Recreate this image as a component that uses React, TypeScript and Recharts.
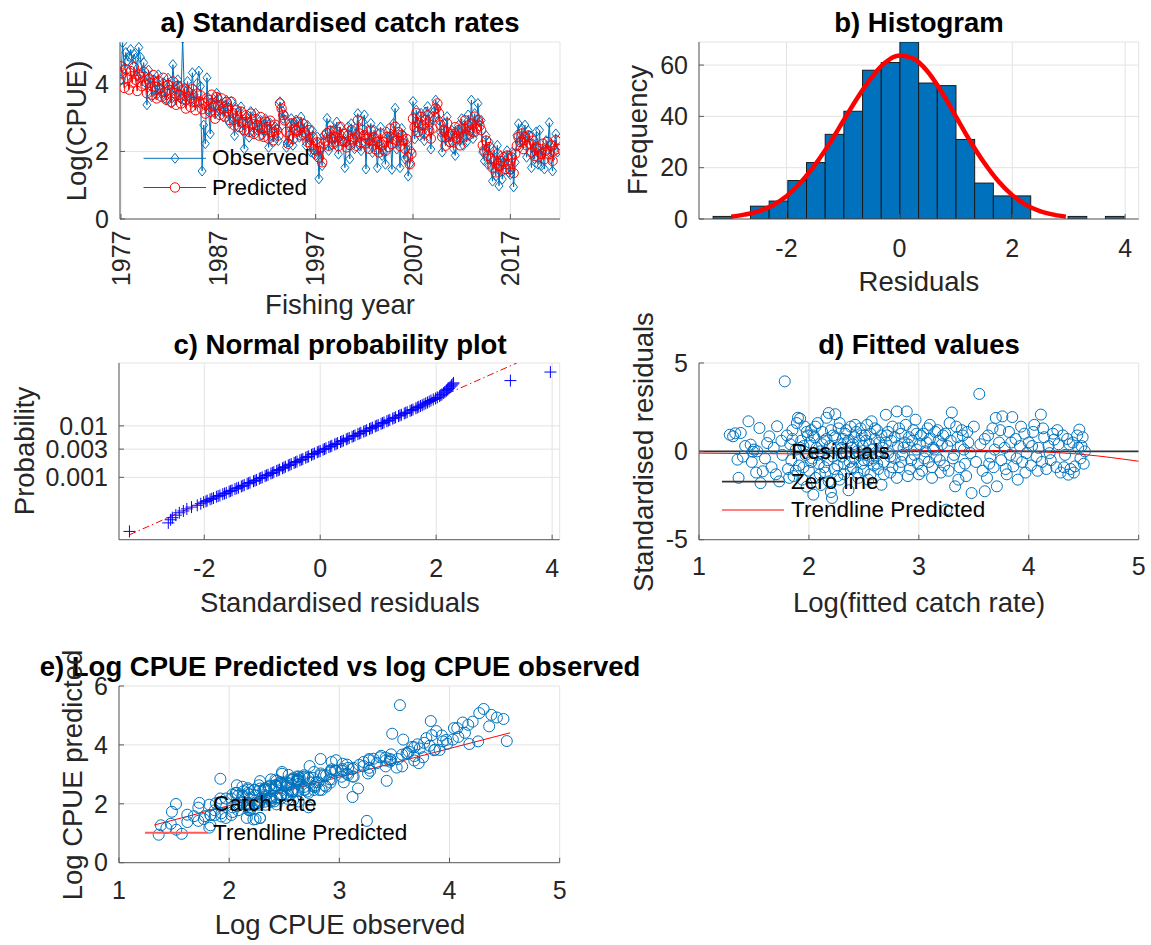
import React from 'react';
import { ComposedChart, Line, Scatter, Bar, XAxis, YAxis, CartesianGrid } from 'recharts';

const FONT = '"Liberation Sans", Arial, Helvetica, sans-serif';
const BLUE = '#0072BD';
const RED = '#FF0000';
const AXIS = '#5a5a5a';
const TXT = '#262626';
const GRID = '#e3e3e3';

// ---------- a) Standardised catch rates (6 values per fishing year, 1977-2021) ----------
const START_YEAR = 1977;
const STEPS_PER_YEAR = 6;
const observedByYear: number[][] = [
  [4.13, 5.22, 4.47, 4.93, 4.68, 4.81],
  [5.02, 4.57, 4.88, 4.76, 4.23, 5.08],
  [4.79, 4.32, 4.63, 4.04, 3.38, 4.41],
  [4.18, 3.62, 4.12, 3.83, 3.67, 4.27],
  [3.84, 3.71, 4.03, 3.58, 3.52, 4.17],
  [3.97, 3.43, 4.57, 3.88, 3.63, 4.12],
  [3.92, 3.57, 5.35, 3.82, 3.48, 4.07],
  [3.77, 3.53, 4.33, 3.68, 3.42, 4.02],
  [4.38, 3.93, 1.42, 2.78, 2.23, 4.18],
  [3.23, 2.52, 3.47, 3.38, 3.12, 3.72],
  [3.58, 3.22, 3.27, 3.03, 3.36, 3.52],
  [3.12, 2.83, 3.48, 2.92, 2.47, 3.28],
  [2.73, 2.88, 3.32, 2.62, 2.08, 3.02],
  [2.97, 2.42, 3.18, 2.73, 2.57, 3.13],
  [2.63, 2.68, 2.92, 2.48, 2.62, 2.97],
  [2.88, 2.12, 2.83, 2.47, 2.28, 2.73],
  [2.68, 2.32, 3.47, 3.22, 2.98, 3.07],
  [2.12, 2.28, 2.73, 2.97, 2.18, 2.87],
  [2.93, 2.58, 2.42, 3.02, 2.47, 2.83],
  [2.18, 2.77, 2.43, 1.98, 2.62, 1.92],
  [1.88, 2.43, 1.19, 2.03, 1.58, 2.48],
  [2.52, 2.98, 2.03, 2.77, 2.18, 2.63],
  [2.22, 2.87, 1.92, 2.72, 2.48, 2.28],
  [1.52, 2.27, 2.73, 1.78, 2.82, 2.57],
  [2.08, 2.53, 3.12, 2.17, 2.02, 2.88],
  [3.08, 1.48, 2.62, 2.27, 2.83, 1.97],
  [2.63, 2.37, 1.52, 2.18, 2.72, 1.88],
  [1.97, 1.62, 2.58, 2.43, 2.47, 1.47],
  [2.83, 3.28, 2.07, 2.42, 1.52, 2.68],
  [2.47, 1.78, 2.23, 1.27, 1.63, 2.02],
  [3.48, 2.37, 3.22, 2.82, 2.47, 3.13],
  [2.58, 2.32, 3.17, 3.33, 2.78, 2.07],
  [2.92, 3.18, 3.52, 3.27, 2.93, 2.57],
  [1.98, 2.83, 2.37, 3.03, 2.27, 2.52],
  [2.62, 2.08, 1.88, 2.53, 2.77, 2.32],
  [2.97, 2.18, 2.72, 2.28, 3.08, 2.47],
  [3.52, 2.38, 3.12, 2.57, 3.42, 2.88],
  [2.92, 1.98, 1.72, 2.47, 1.62, 2.28],
  [1.58, 1.12, 2.03, 1.27, 2.18, 0.98],
  [1.87, 1.18, 1.62, 1.73, 2.02, 1.38],
  [1.32, 1.97, 0.95, 1.68, 2.48, 2.82],
  [2.12, 2.68, 2.37, 2.78, 1.83, 2.62],
  [2.47, 1.52, 2.23, 1.78, 2.58, 1.62],
  [2.63, 1.57, 2.02, 1.48, 2.32, 2.07],
  [2.85, 1.78, 1.42, 2.18, 2.52, 1.98],
];
const predictedByYear: number[][] = [
  [4.52, 4.31, 3.88, 4.43, 4.17, 3.83],
  [4.38, 4.04, 4.49, 4.12, 3.79, 4.27],
  [4.21, 3.93, 4.36, 3.98, 3.72, 4.14],
  [4.03, 3.68, 4.26, 3.91, 3.57, 4.08],
  [3.87, 3.62, 4.18, 3.76, 3.53, 3.97],
  [3.82, 3.46, 4.07, 3.73, 3.38, 3.94],
  [3.68, 3.42, 3.55, 3.86, 3.27, 3.77],
  [3.63, 3.31, 3.84, 3.47, 3.22, 3.71],
  [3.48, 3.66, 3.25, 3.43, 3.12, 3.58],
  [3.52, 3.17, 3.68, 3.34, 2.97, 3.61],
  [3.37, 3.08, 3.57, 3.26, 3.03, 3.46],
  [3.28, 2.93, 3.47, 3.13, 2.77, 3.22],
  [3.04, 2.72, 3.18, 2.87, 2.63, 3.07],
  [2.86, 2.58, 3.12, 2.81, 2.52, 2.96],
  [2.78, 2.47, 3.02, 2.69, 2.43, 2.88],
  [2.72, 2.38, 2.91, 2.57, 2.33, 2.79],
  [2.63, 2.47, 3.42, 3.27, 3.08, 2.92],
  [2.58, 2.23, 2.46, 2.83, 2.37, 2.68],
  [2.62, 2.88, 2.71, 2.48, 2.82, 2.57],
  [2.47, 2.28, 2.63, 2.18, 2.42, 2.07],
  [2.03, 2.27, 1.82, 2.12, 1.68, 2.23],
  [2.32, 2.54, 2.17, 2.61, 2.38, 2.27],
  [2.43, 2.58, 2.16, 2.73, 2.31, 2.52],
  [2.28, 2.12, 2.47, 2.19, 2.63, 2.36],
  [2.41, 2.17, 2.92, 2.53, 2.26, 2.64],
  [2.48, 2.24, 2.37, 2.08, 2.62, 2.33],
  [2.42, 2.06, 2.28, 1.97, 2.53, 2.18],
  [2.27, 2.02, 2.43, 2.13, 2.68, 2.22],
  [2.38, 2.73, 2.32, 2.57, 2.16, 2.48],
  [2.33, 2.08, 2.37, 1.83, 1.62, 1.93],
  [2.97, 2.72, 3.13, 2.58, 2.84, 3.02],
  [2.77, 2.53, 2.93, 3.07, 2.62, 2.38],
  [2.68, 3.03, 3.27, 3.42, 3.12, 2.78],
  [2.43, 2.62, 2.17, 2.83, 2.47, 2.28],
  [2.52, 2.27, 2.72, 2.38, 2.63, 2.18],
  [2.68, 2.43, 2.92, 2.47, 2.77, 2.62],
  [2.83, 2.57, 3.03, 2.68, 2.93, 2.76],
  [2.63, 2.18, 2.03, 2.32, 1.87, 2.13],
  [1.78, 1.52, 1.73, 1.38, 1.92, 1.57],
  [1.72, 1.43, 1.83, 1.48, 1.88, 1.62],
  [1.47, 1.82, 1.36, 1.93, 2.17, 2.42],
  [2.28, 2.53, 2.07, 2.43, 2.18, 2.47],
  [2.23, 1.97, 2.32, 1.87, 2.12, 1.83],
  [2.07, 1.93, 2.23, 1.77, 2.03, 2.28],
  [1.92, 2.18, 1.72, 2.02, 2.33, 2.08],
];
const yearTicks = [1977, 1987, 1997, 2007, 2017];
const cpueTicks = [0, 2, 4];

// ---------- b) Histogram of residuals ----------
const residualBinStart = -3.3;
const residualBinWidth = 0.331;
const residualCounts = [1, 0, 5, 7, 15, 22, 33, 42, 58, 61, 69, 53, 52, 31, 14, 9, 9, 0, 0, 1, 0, 1];
const normalFitX = [-2.98, -2.75, -2.5, -2.25, -2.0, -1.75, -1.5, -1.25, -1.0, -0.75, -0.5, -0.25, 0, 0.25, 0.5, 0.75, 1.0, 1.25, 1.5, 1.75, 2.0, 2.25, 2.5, 2.75, 2.95];
const normalFitY = [0.9, 1.7, 3.0, 5.3, 8.9, 14.2, 21.0, 29.0, 38.0, 47.0, 55.0, 61.0, 63.7, 62.5, 57.5, 49.5, 40.0, 30.5, 22.0, 14.8, 9.3, 5.4, 3.0, 1.6, 0.9];
const freqTicks = [0, 20, 40, 60];
const residTicks = [-2, 0, 2, 4];

// ---------- c) Normal probability plot: [sorted residual, normal quantile] ----------
const probPoints: number[][] = [
  [-3.29, -3.08], [-2.62, -2.75], [-2.58, -2.63], [-2.55, -2.55], [-2.49, -2.45], [-2.43, -2.36], [-2.36, -2.29],
  [-2.3, -2.21], [-2.22, -2.14], [-2.12, -2.07], [-2.06, -2.01], [-2.01, -1.95], [-1.95, -1.89], [-1.9, -1.84],
  [-1.84, -1.79], [-1.79, -1.74], [-1.73, -1.69], [-1.68, -1.64], [-1.62, -1.59], [-1.57, -1.54], [-1.52, -1.49],
  [-1.47, -1.44], [-1.41, -1.39], [-1.36, -1.34], [-1.31, -1.29], [-1.26, -1.24], [-1.21, -1.19], [-1.15, -1.14],
  [-1.1, -1.09], [-1.05, -1.04], [-1.0, -0.99], [-0.95, -0.94], [-0.9, -0.89], [-0.85, -0.84], [-0.8, -0.79],
  [-0.75, -0.74], [-0.7, -0.69], [-0.65, -0.64], [-0.6, -0.58], [-0.55, -0.53], [-0.5, -0.48], [-0.45, -0.43],
  [-0.4, -0.38], [-0.35, -0.33], [-0.3, -0.28], [-0.25, -0.23], [-0.2, -0.18], [-0.15, -0.12], [-0.1, -0.07],
  [-0.05, -0.02], [0.0, 0.03], [0.05, 0.08], [0.1, 0.13], [0.15, 0.18], [0.2, 0.23], [0.25, 0.28], [0.3, 0.33],
  [0.35, 0.38], [0.4, 0.43], [0.45, 0.48], [0.5, 0.53], [0.55, 0.58], [0.6, 0.63], [0.65, 0.68], [0.7, 0.73],
  [0.75, 0.78], [0.8, 0.83], [0.85, 0.88], [0.9, 0.93], [0.95, 0.98], [1.0, 1.03], [1.05, 1.08], [1.1, 1.13],
  [1.15, 1.18], [1.2, 1.23], [1.25, 1.28], [1.3, 1.33], [1.35, 1.38], [1.4, 1.43], [1.45, 1.48], [1.5, 1.53],
  [1.55, 1.58], [1.6, 1.63], [1.65, 1.68], [1.7, 1.74], [1.76, 1.8], [1.82, 1.87], [1.88, 1.94], [1.95, 2.02],
  [2.02, 2.1], [2.06, 2.15], [2.1, 2.22], [2.15, 2.31], [2.2, 2.4], [2.24, 2.5], [2.27, 2.58], [2.3, 2.66],
  [3.28, 2.75], [3.97, 3.08],
  [-1.97, -1.92], [-1.87, -1.815], [-1.76, -1.715], [-1.65, -1.615], [-1.545, -1.515], [-1.44, -1.415],
  [-1.335, -1.315], [-1.235, -1.215], [-1.125, -1.115], [-1.025, -1.015], [-0.925, -0.915], [-0.825, -0.815],
  [-0.725, -0.715], [-0.625, -0.61], [-0.525, -0.505], [-0.425, -0.405], [-0.325, -0.305], [-0.225, -0.2],
  [-0.125, -0.095], [-0.025, 0.005], [0.075, 0.105], [0.175, 0.205], [0.275, 0.305], [0.375, 0.405],
  [0.475, 0.505], [0.575, 0.605], [0.675, 0.705], [0.775, 0.805], [0.875, 0.905], [0.975, 1.005],
  [1.075, 1.105], [1.175, 1.205], [1.275, 1.305], [1.375, 1.405], [1.475, 1.505], [1.575, 1.605],
  [1.675, 1.71], [1.73, 1.77], [1.79, 1.835], [1.85, 1.9], [1.91, 1.98], [1.99, 2.06], [2.08, 2.19],
  [2.13, 2.27], [2.18, 2.36], [2.22, 2.45], [2.26, 2.54], [2.29, 2.62],
];
const probRefLine = [[-3.29, -3.21], [3.39, 3.43]];
const probTicks = [-0.99, 0.1, 1.0];
const probTickLabels = ['0.001', '0.003', '0.01'];

// ---------- d) Fitted values vs standardised residuals ----------
const fittedResiduals: number[][] = [
  [1.28, 0.94], [1.31, 0.85], [1.33, 1.02], [1.35, -0.47], [1.36, -1.5], [1.38, 1.04], [1.4, -0.3], [1.42, 0.3],
  [1.45, 1.7], [1.47, 0.38], [1.48, -0.6], [1.5, 0.1], [1.52, -1.2], [1.53, 0.0], [1.55, 1.32], [1.56, -1.8],
  [1.58, -1.13], [1.6, -0.4], [1.62, 0.47], [1.64, 0.85], [1.66, -0.9], [1.68, 0.2], [1.7, -1.3], [1.71, 1.42],
  [1.73, -1.7], [1.75, 0.6], [1.78, 3.96], [1.76, -0.2],
  [1.8, 0.9], [1.81, -1.0], [1.83, 0.4], [1.84, -0.5], [1.85, 1.2], [1.86, -1.4], [1.88, 0.1], [1.89, 1.6],
  [1.9, 1.9], [1.91, -0.8], [1.92, 1.85], [1.93, 0.6], [1.94, -1.6], [1.95, 0.3], [1.96, 1.4], [1.97, -0.2],
  [1.98, -2.0], [1.99, 0.9],
  [2.0, -1.1], [2.01, 0.5], [2.02, 1.2], [2.03, -0.4], [2.04, -2.45], [2.05, 0.8], [2.06, -1.5], [2.07, 0.2],
  [2.08, 1.6], [2.09, -0.7], [2.1, 0.0], [2.11, -1.9], [2.12, 1.1], [2.13, -0.2], [2.14, 0.6], [2.15, -1.2],
  [2.16, 1.9], [2.17, -0.5], [2.18, 2.17], [2.19, 0.3], [2.2, -2.3], [2.21, -2.64], [2.22, 0.9], [2.23, -1.0],
  [2.24, 2.1], [2.25, 0.1], [2.26, -0.8], [2.27, 1.3], [2.28, -1.6], [2.29, 0.4], [2.3, -0.3], [2.31, 0.7],
  [2.32, -1.3], [2.33, 1.0], [2.34, -0.1], [2.35, 0.5], [2.36, -2.2], [2.37, -0.6], [2.38, 1.4], [2.39, 0.2],
  [2.4, -0.9], [2.41, 0.8], [2.42, -0.4], [2.43, 1.1], [2.44, 0.0], [2.45, -1.5], [2.46, 0.6], [2.47, 1.3],
  [2.48, -0.7], [2.49, 0.3], [2.5, -1.1], [2.51, 0.9], [2.52, -0.2], [2.53, 1.5], [2.54, -0.5], [2.55, 0.4],
  [2.56, -1.3], [2.57, 1.7], [2.58, 0.1], [2.59, -0.8], [2.6, 0.7], [2.61, -0.3], [2.62, 1.2], [2.63, -1.0],
  [2.64, 0.5], [2.66, -1.89], [2.67, 0.2], [2.68, -0.6], [2.7, 2.07], [2.71, 0.9], [2.72, -0.1], [2.74, -1.2],
  [2.75, 0.6], [2.76, 1.4], [2.78, -0.4], [2.8, 2.26], [2.81, 0.3], [2.82, -0.9], [2.84, 1.0], [2.85, -0.2],
  [2.87, 0.5], [2.89, 2.26], [2.9, -1.4], [2.91, 0.8], [2.93, -0.5], [2.95, 1.2], [2.97, 1.79], [2.98, 0.1],
  [2.99, -0.7],
  [3.01, 0.4], [3.03, -1.1], [3.04, 1.0], [3.06, 0.0], [3.08, 1.3], [3.09, -0.6], [3.1, 0.7], [3.12, -1.5],
  [3.13, 0.2], [3.15, 1.1], [3.16, -0.3], [3.18, 0.6], [3.2, -1.2], [3.22, 0.9], [3.23, -0.8], [3.25, -3.3],
  [3.26, 0.3], [3.28, 1.6], [3.3, 2.2], [3.31, -0.4], [3.33, -1.98], [3.35, 0.8], [3.37, -0.9], [3.39, 1.2],
  [3.41, 0.1], [3.43, -1.4], [3.45, 0.5], [3.48, -2.36], [3.5, 1.4], [3.52, -0.6],
  [3.55, 3.25], [3.56, 0.4], [3.58, -1.1], [3.6, -2.26], [3.62, -1.5], [3.63, 0.9], [3.65, -0.3], [3.67, 1.3],
  [3.68, -0.9], [3.7, 1.89], [3.71, -1.98], [3.73, 0.5], [3.75, -0.5], [3.76, 1.98], [3.78, 0.2], [3.8, -1.3],
  [3.82, 1.1], [3.83, -0.2], [3.85, 1.94], [3.86, -0.85], [3.88, 0.7], [3.9, -1.6], [3.92, 0.3], [3.94, -0.6],
  [3.96, 1.0], [3.98, -0.1],
  [4.0, 0.5], [4.02, -0.8], [4.04, 1.1], [4.05, 1.5], [4.07, -0.3], [4.09, 0.2], [4.11, 2.08], [4.12, -0.6],
  [4.14, 0.8], [4.16, -1.0], [4.18, 0.3], [4.2, -0.5], [4.22, 1.0], [4.23, 0.66], [4.25, -0.9], [4.27, 0.4],
  [4.29, -1.2], [4.31, 0.9], [4.33, -0.2], [4.35, 0.7], [4.36, -1.32], [4.38, -1.0], [4.4, 0.5], [4.42, -0.85],
  [4.44, 0.9], [4.46, 1.23], [4.47, -0.4], [4.48, 0.3], [4.5, -0.7], [4.51, 0.0],
  [2.02, -0.6], [2.04, 0.9], [2.06, 1.4], [2.08, -0.2], [2.1, -1.3], [2.12, 0.4], [2.14, -0.9], [2.16, 0.7],
  [2.18, -1.7], [2.2, 1.2], [2.22, -0.3], [2.24, 0.8], [2.26, -1.4], [2.28, 1.6], [2.3, 0.2], [2.32, -0.7],
  [2.34, 1.2], [2.36, 0.6], [2.38, -1.0], [2.4, 0.4], [2.42, 1.5], [2.44, -1.2], [2.46, -0.2], [2.48, 0.9],
  [2.5, -0.5], [2.52, 0.6], [2.54, -1.6], [2.56, 1.0], [2.58, -0.4], [2.6, 1.3], [2.62, -0.7], [2.64, 0.0],
  [2.66, 0.9], [2.68, -1.3], [2.7, 0.5], [2.72, 1.1], [2.74, -0.3], [2.76, -0.9], [2.78, 0.8], [2.8, -1.5],
  [2.82, 1.3], [2.84, -0.6], [2.86, 0.2], [2.88, 1.5], [2.9, 0.4], [2.92, -1.0], [2.94, 0.6], [2.96, -0.2],
  [2.98, 1.0], [3.0, -1.3], [3.02, 0.9], [3.05, -0.4], [3.07, 0.5], [3.1, 1.5], [3.12, -0.9], [3.14, 0.1],
  [3.17, 1.2], [3.19, -0.5], [3.21, 0.4], [3.24, 1.0], [3.27, -1.1], [3.29, 0.6], [3.32, -0.2], [3.34, 1.4],
  [3.36, -1.6], [3.38, 0.3], [3.4, 0.9], [3.42, -0.7], [3.44, 1.1], [3.47, -0.1], [1.88, -1.1], [1.92, 0.2],
  [1.95, -0.9], [1.98, 1.1], [1.85, 0.7], [1.82, -1.5], [3.6, 0.7], [3.64, -0.7], [3.69, 0.1], [3.74, 1.2],
  [3.79, -1.0], [3.84, 0.5], [3.89, -0.4], [3.93, 1.4], [3.97, -1.2], [4.03, 0.3], [4.08, -1.1], [4.13, 1.3],
  [4.19, -0.1], [4.26, 1.2], [4.32, -0.9], [4.37, 0.4], [4.41, -1.2], [4.45, 0.2], [4.49, 0.8],
];
const fittedTrend: number[][] = [[1, -0.1], [1.5, -0.13], [2, -0.14], [2.5, -0.06], [3, 0.04], [3.5, 0.06], [4, 0.0], [4.5, -0.18], [5, -0.56]];
const zeroLine: number[][] = [[1, 0], [5, 0]];
const fittedTicks = [1, 2, 3, 4, 5];
const stdResTicks = [-5, 0, 5];

// ---------- e) Predicted vs observed ----------
const catchTrend: number[][] = [[1.32, 1.28], [4.55, 4.41]];
const logTicksX = [1, 2, 3, 4, 5];
const logTicksY = [0, 2, 4, 6];

// ---------- derived tables ----------
const seriesRows = observedByYear.flatMap((row, yi) =>
  row.map((obs, k) => ({ year: START_YEAR + yi + k / STEPS_PER_YEAR, obs, pred: predictedByYear[yi][k] }))
);
const histRows = residualCounts.map((count, i) => ({ x: residualBinStart + (i + 0.5) * residualBinWidth, count }));
const normalRows = normalFitX.map((x, i) => ({ x, y: normalFitY[i] }));
const toXY = (arr: number[][]) => arr.map(([x, y]) => ({ x, y }));
const catchRows = seriesRows.map((r) => ({ x: r.pred, y: r.obs }));

// ---------- layout helpers ----------
type Rect = { x0: number; y0: number; x1: number; y1: number };
const PAD_L = 90, PAD_T = 14, PAD_R = 14, PAD_B = 80;
function boxOf(r: Rect) {
  return {
    style: { position: 'absolute' as const, left: r.x0 - PAD_L, top: r.y0 - PAD_T },
    width: r.x1 - r.x0 + PAD_L + PAD_R,
    height: r.y1 - r.y0 + PAD_T + PAD_B,
    margin: { top: PAD_T, right: PAD_R, bottom: 0, left: 0 },
  };
}
const RA: Rect = { x0: 120, y0: 41.7, x1: 560, y1: 218.7 };
const RB: Rect = { x0: 699.3, y0: 41.7, x1: 1139, y1: 218.7 };
const RC: Rect = { x0: 119.3, y0: 363.3, x1: 560, y1: 540 };
const RD: Rect = { x0: 699.3, y0: 363.3, x1: 1139, y1: 540 };
const RE: Rect = { x0: 119.3, y0: 686, x1: 560, y1: 862.7 };

const tickStyle = { fontFamily: FONT, fontSize: 25, fill: TXT };

function xTick(offset = 28, fmt?: (v: number) => string) {
  return (p: any) => {
    const { x, y, payload } = p;
    const label = fmt ? fmt(payload.value) : String(payload.value);
    return (
      <g>
        <line x1={x} x2={x} y1={y} y2={y - 5} stroke={AXIS} strokeWidth={1} />
        <text x={x} y={y + offset} dy="0.35em" textAnchor="middle" style={tickStyle}>{label}</text>
      </g>
    );
  };
}
function xTickRotated(p: any) {
  const { x, y, payload } = p;
  return (
    <g>
      <line x1={x} x2={x} y1={y} y2={y - 5} stroke={AXIS} strokeWidth={1} />
      <text transform={`translate(${x},${y + 11.5}) rotate(-90)`} dy="0.35em" textAnchor="end" style={tickStyle}>{String(payload.value)}</text>
    </g>
  );
}
function yTick(fmt?: (v: number) => string) {
  return (p: any) => {
    const { x, y, payload } = p;
    const label = fmt ? fmt(payload.value) : String(payload.value);
    return (
      <g>
        <line x1={x} x2={x + 5} y1={y} y2={y} stroke={AXIS} strokeWidth={1} />
        <text x={x - 11} y={y} dy="0.35em" textAnchor="end" style={tickStyle}>{label}</text>
      </g>
    );
  };
}
const axisCommon = { tickLine: false, tickSize: 0, tickMargin: 0, axisLine: { stroke: AXIS, strokeWidth: 1 }, interval: 0 as const, allowDataOverflow: true };

function Txt({ x, y, text, size = 27.5, bold = false, rotate = false, color = TXT }: any) {
  return (
    <div
      style={{
        position: 'absolute', left: x, top: y,
        transform: `translate(-50%, -50%)${rotate ? ' rotate(-90deg)' : ''}`,
        fontFamily: FONT, fontSize: size, fontWeight: bold ? 'bold' : 'normal', color,
        whiteSpace: 'nowrap', lineHeight: 1,
      }}
    >
      {text}
    </div>
  );
}
function LegendText({ x, y, text }: any) {
  return (
    <div style={{ position: 'absolute', left: x, top: y, transform: 'translateY(-50%)', fontFamily: FONT, fontSize: 22.5, color: '#000', whiteSpace: 'nowrap', lineHeight: 1 }}>
      {text}
    </div>
  );
}

const diamondDot = (p: any) => {
  const { cx, cy, index } = p;
  if (cx == null || cy == null) return <g key={`d${index}`} />;
  return <path key={`d${index}`} d={`M${cx},${cy - 5}L${cx + 4},${cy}L${cx},${cy + 5}L${cx - 4},${cy}Z`} fill="none" stroke={BLUE} strokeWidth={1} />;
};
const circleDot = (p: any) => {
  const { cx, cy, index } = p;
  if (cx == null || cy == null) return <g key={`c${index}`} />;
  return <circle key={`c${index}`} cx={cx} cy={cy} r={4.7} fill="none" stroke={RED} strokeWidth={1} />;
};
const hollowCircle = (p: any) => <circle cx={p.cx} cy={p.cy} r={5.5} fill="none" stroke={BLUE} strokeWidth={1} />;
const plusMark = (p: any) => (
  <path d={`M${p.cx - 6},${p.cy}H${p.cx + 6}M${p.cx},${p.cy - 6}V${p.cy + 6}`} stroke="#0000FF" strokeWidth={1} fill="none" />
);

const histDomain: [number, number] = [-3.55, 4.24];
const barPx = (residualBinWidth / (histDomain[1] - histDomain[0])) * (RB.x1 - RB.x0);
const histBar = (p: any) => {
  const { x, y, width, height } = p;
  if (!height || height <= 0) return <g />;
  const cx = x + width / 2;
  return <rect x={cx - barPx / 2} y={y} width={barPx} height={height} fill={BLUE} stroke="#1a1a1a" strokeWidth={1} />;
};

export default function App() {
  return (
    <div style={{ position: 'absolute', left: 0, top: 0, width: 1151, height: 945, background: '#fff', overflow: 'hidden', fontFamily: FONT }}>
      {/* a */}
      <ComposedChart {...boxOf(RA)} data={seriesRows}>
        <CartesianGrid stroke={GRID} />
        <XAxis type="number" dataKey="year" domain={[1976.9, 2022.1]} ticks={yearTicks} height={PAD_B} tick={xTickRotated} {...axisCommon} />
        <YAxis type="number" domain={[0, 5.24]} ticks={cpueTicks} width={PAD_L} tick={yTick()} {...axisCommon} />
        <Line dataKey="obs" stroke={BLUE} strokeWidth={1} dot={diamondDot} isAnimationActive={false} />
        <Line dataKey="pred" stroke={RED} strokeWidth={1} dot={circleDot} isAnimationActive={false} />
      </ComposedChart>

      {/* b */}
      <ComposedChart {...boxOf(RB)} data={histRows}>
        <CartesianGrid stroke={GRID} />
        <XAxis type="number" dataKey="x" domain={histDomain} ticks={residTicks} height={PAD_B} tick={xTick(28.8)} {...axisCommon} />
        <YAxis type="number" domain={[0, 69]} ticks={freqTicks} width={PAD_L} tick={yTick()} {...axisCommon} />
        <Bar dataKey="count" fill={BLUE} shape={histBar} isAnimationActive={false} />
        <Line data={normalRows} dataKey="y" type="monotone" stroke={RED} strokeWidth={4.5} dot={false} isAnimationActive={false} />
      </ComposedChart>

      {/* c */}
      <ComposedChart {...boxOf(RC)}>
        <CartesianGrid stroke={GRID} />
        <XAxis type="number" dataKey="x" domain={[-3.47, 4.13]} ticks={residTicks} height={PAD_B} tick={xTick(28.3)} {...axisCommon} />
        <YAxis type="number" dataKey="y" domain={[-3.4, 3.43]} ticks={probTicks} width={PAD_L}
          tick={yTick((v) => probTickLabels[probTicks.indexOf(v)] ?? '')} {...axisCommon} />
        <Line data={toXY(probRefLine)} dataKey="y" stroke={RED} strokeWidth={1} strokeDasharray="7 3 1.5 3" dot={false} isAnimationActive={false} />
        <Scatter data={toXY(probPoints)} shape={plusMark} isAnimationActive={false} />
      </ComposedChart>

      {/* d */}
      <ComposedChart {...boxOf(RD)}>
        <CartesianGrid stroke={GRID} />
        <XAxis type="number" dataKey="x" domain={[1, 5]} ticks={fittedTicks} height={PAD_B} tick={xTick(27)} {...axisCommon} />
        <YAxis type="number" dataKey="y" domain={[-5, 5]} ticks={stdResTicks} width={PAD_L} tick={yTick()} {...axisCommon} />
        <Scatter data={toXY(fittedResiduals)} shape={hollowCircle} isAnimationActive={false} />
        <Line data={toXY(zeroLine)} dataKey="y" stroke="#333333" strokeWidth={1.8} dot={false} isAnimationActive={false} />
        <Line data={toXY(fittedTrend)} dataKey="y" type="monotone" stroke={RED} strokeWidth={1} dot={false} isAnimationActive={false} />
      </ComposedChart>

      {/* e */}
      <ComposedChart {...boxOf(RE)}>
        <CartesianGrid stroke={GRID} />
        <XAxis type="number" dataKey="x" domain={[1, 5]} ticks={logTicksX} height={PAD_B} tick={xTick(27.3)} {...axisCommon} />
        <YAxis type="number" dataKey="y" domain={[0, 6]} ticks={logTicksY} width={PAD_L} tick={yTick()} {...axisCommon} />
        <Scatter data={catchRows} shape={hollowCircle} isAnimationActive={false} />
        <Line data={toXY(catchTrend)} dataKey="y" stroke={RED} strokeWidth={1} dot={false} isAnimationActive={false} />
      </ComposedChart>

      {/* titles and axis labels */}
      <Txt x={340} y={22.7} text="a) Standardised catch rates" bold color="#000" />
      <Txt x={77} y={131} text="Log(CPUE)" rotate />
      <Txt x={340} y={305} text="Fishing year" />

      <Txt x={919} y={22.7} text="b) Histogram" bold color="#000" />
      <Txt x={638} y={130} text="Frequency" rotate />
      <Txt x={919} y={281.7} text="Residuals" />

      <Txt x={340} y={345} text="c) Normal probability plot" bold color="#000" />
      <Txt x={25} y={451} text="Probability" rotate />
      <Txt x={340} y={603.3} text="Standardised residuals" />

      <Txt x={919} y={345} text="d) Fitted values" bold color="#000" />
      <Txt x={644} y={452} text="Standardised residuals" rotate />
      <Txt x={919} y={603.3} text="Log(fitted catch rate)" />

      <Txt x={340} y={666.7} text="e) Log CPUE Predicted vs log CPUE observed" bold color="#000" />
      <Txt x={73} y={775} text="Log CPUE predicted" rotate />
      <Txt x={340} y={925} text="Log CPUE observed" />

      {/* legend samples */}
      <svg style={{ position: 'absolute', left: 0, top: 0, pointerEvents: 'none' }} width={1151} height={945}>
        <line x1={143.5} x2={206} y1={158.3} y2={158.3} stroke={BLUE} strokeWidth={1} />
        <path d="M175,153.3L179,158.3L175,163.3L171,158.3Z" fill="none" stroke={BLUE} strokeWidth={1} />
        <line x1={143.5} x2={206} y1={187.5} y2={187.5} stroke={RED} strokeWidth={1} />
        <circle cx={175} cy={187.5} r={4.7} fill="#fff" stroke={RED} strokeWidth={1} />

        <circle cx={753} cy={451.7} r={5.5} fill="none" stroke={BLUE} strokeWidth={1} />
        <line x1={722} x2={784} y1={481.7} y2={481.7} stroke="#333333" strokeWidth={1.8} />
        <line x1={722} x2={784} y1={510} y2={510} stroke={RED} strokeWidth={1} />

        <circle cx={176} cy={804} r={5.5} fill="none" stroke={BLUE} strokeWidth={1} />
        <line x1={145} x2={208} y1={832.7} y2={832.7} stroke="#ff5a5a" strokeWidth={2} />
      </svg>
      <LegendText x={212} y={158.3} text="Observed" />
      <LegendText x={212} y={187.5} text="Predicted" />
      <LegendText x={791} y={451.7} text="Residuals" />
      <LegendText x={791} y={481.7} text="Zero line" />
      <LegendText x={791} y={510} text="Trendline Predicted" />
      <LegendText x={213} y={804} text="Catch rate" />
      <LegendText x={213} y={832.7} text="Trendline Predicted" />
    </div>
  );
}
